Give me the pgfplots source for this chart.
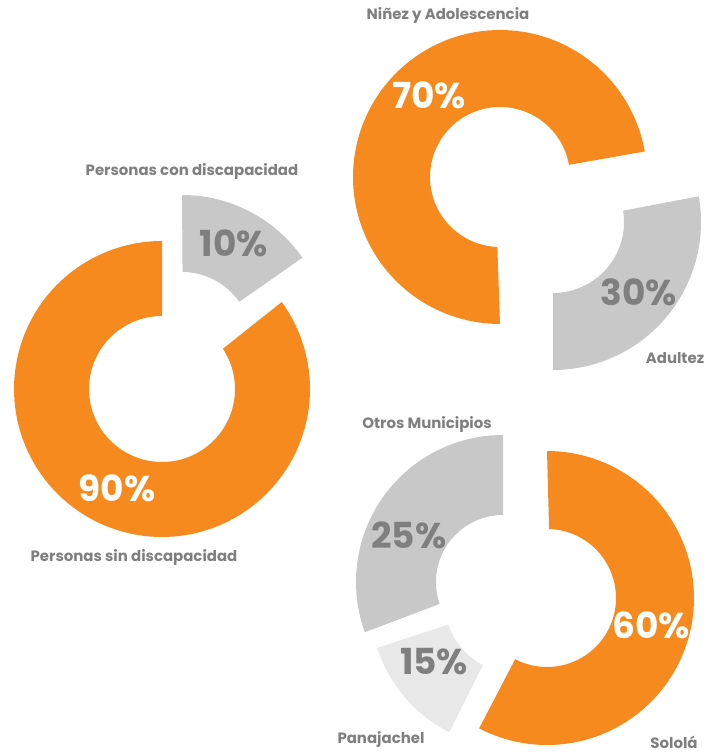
\documentclass[border=0pt]{standalone}
\usepackage{pgfplots}
\pgfplotsset{compat=1.18}
\usepackage{fontspec}
\setmainfont{Poppins}
\definecolor{orng}{HTML}{F68A1E}
\definecolor{gry}{HTML}{C8C8C8}
\definecolor{lgry}{HTML}{E8E8E8}
\definecolor{txt}{HTML}{7F7F7F}
% slice: cx, cy, outer R, inner r, start angle, end angle, colour
\newcommand{\slice}[7]{%
  \addplot[fill=#7, draw=none, domain=0:2, samples=241, variable=\t]
  ({#1 + ifthenelse(\t<1, #3, #4)*cos(ifthenelse(\t<1, (#5)+\t*((#6)-(#5)), (#6)-(\t-1)*((#6)-(#5))))},
   {#2 + ifthenelse(\t<1, #3, #4)*sin(ifthenelse(\t<1, (#5)+\t*((#6)-(#5)), (#6)-(\t-1)*((#6)-(#5))))});
}
\begin{document}
\begin{tikzpicture}
\begin{axis}[scale only axis, width=718bp, height=754bp, at={(0,0)}, anchor=south west,
  xmin=0, xmax=718, ymin=0, ymax=754, hide axis, clip=false]
% Donut 1: Personas sin discapacidad 90, con discapacidad 10
\slice{162}{365}{148}{73}{90}{396}{orng}
\slice{182}{412}{147}{70}{35}{90}{gry}
% Donut 2: Ninez y Adolescencia 70, Adultez 30
\slice{500}{577}{147}{70}{10}{270}{orng}
\slice{553}{532}{148}{71}{-90}{10}{gry}
% Donut 3: Solola 60, Otros Municipios 25, Panajachel 15
\slice{547}{156}{147}{69}{-117.5}{90}{orng}
\slice{503}{172}{147}{67}{90}{200}{gry}
\slice{515}{151}{145}{70}{198}{243}{lgry}
% category labels
\begin{scope}[every node/.style={font=\bfseries\fontsize{15}{17}\selectfont, text=txt, inner sep=0pt}]
\node at (axis cs:192,582) {Personas con discapacidad};
\node at (axis cs:134,196) {Personas sin discapacidad};
\node at (axis cs:448,738) {Niñez y Adolescencia};
\node at (axis cs:675,396) {Adultez};
\node at (axis cs:427,329) {Otros Municipios};
\node at (axis cs:381,14) {Panajachel};
\node at (axis cs:674,12) {Sololá};
\end{scope}
% percentages
\begin{scope}[every node/.style={font=\bfseries\fontsize{36}{40}\selectfont, inner sep=0pt}]
\node[text=txt] at (axis cs:234,511) {10\%};
\node[text=white] at (axis cs:117,266) {90\%};
\node[text=white] at (axis cs:429,659) {70\%};
\node[text=txt] at (axis cs:639,462) {30\%};
\node[text=txt] at (axis cs:409,219) {25\%};
\node[text=txt] at (axis cs:434,92) {15\%};
\node[text=white] at (axis cs:651,129) {60\%};
\end{scope}
\end{axis}
\pgfresetboundingbox
\path (0,0) rectangle (718bp,754bp);
\end{tikzpicture}
\end{document}
